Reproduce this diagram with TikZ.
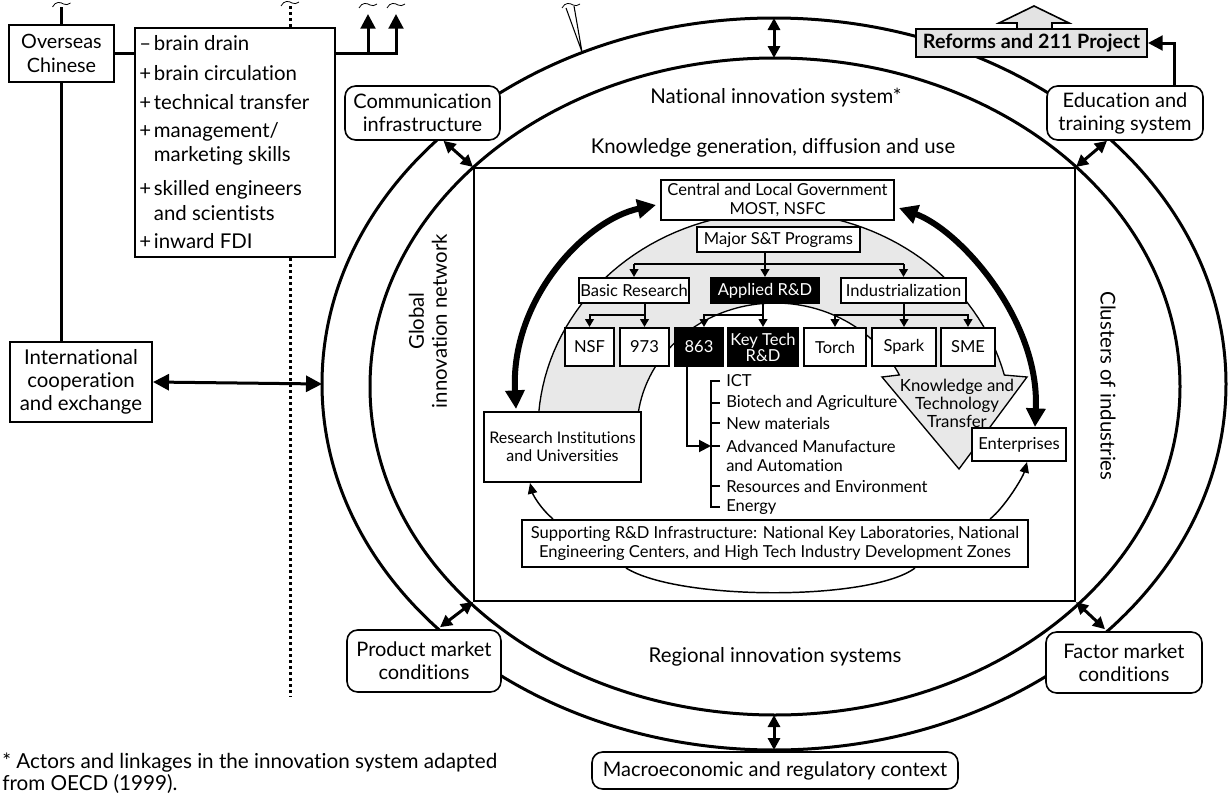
\documentclass[tikz,border=0pt]{standalone}
\usepackage{fontspec}
\setmainfont{Lato}[Ligatures=NoCommon]
\usetikzlibrary{arrows.meta,calc}
\begin{document}
\begin{tikzpicture}[x=0.75pt,y=-0.75pt,
  every node/.style={font=\fontsize{12.4}{14.5}\selectfont,inner sep=1pt},
  wh/.style 2 args={minimum width=#1*0.75pt,minimum height=#2*0.75pt},
  sq/.style={draw,line width=1.5pt,fill=white,align=center},
  blk/.style={sq,fill=black,text=white},
  rnd/.style={draw,line width=1.2pt,fill=white,rounded corners=8pt,align=center,font=\fontsize{15}{17.3}\selectfont},
  bigtxt/.style={font=\fontsize{15.3}{17.3}\selectfont,align=center},
  lst/.style={font=\fontsize{15.3}{18.5}\selectfont,align=left,inner sep=0pt,anchor=west},
  ell/.style={line width=2.25pt},
  heavy/.style={line width=2.25pt},
  dotline/.style={line width=2.25pt,dash pattern=on 2.25pt off 2.25pt},
  tree/.style={line width=1.5pt,-{Triangle[length=6pt,width=6.5pt]}},
  dbl/.style={line width=2.25pt,{Triangle[length=9pt,width=9pt]}-{Triangle[length=9pt,width=9pt]}},
  bigdbl/.style={line width=4.5pt,{Triangle[length=14pt,width=14pt]}-{Triangle[length=14pt,width=14pt]}},
  thinarr/.style={line width=1.1pt,-{Triangle[length=8pt,width=7pt]}},
  uparr/.style={line width=2.25pt,-{Triangle[length=11pt,width=11pt]}},
  tld/.pic={\draw[line width=0.6pt] (-9,2) .. controls (-6,-4) and (-1,-3) .. (2,-1) .. controls (4,0) and (7,0) .. (9,-2);}
]
\useasboundingbox (0,0) rectangle (1229,796);

% ---------- system ellipses ----------
\draw[ell] (774,384) ellipse [x radius=339pt, y radius=274.5pt];
\draw[ell] (775,386.5) ellipse [x radius=303.75pt, y radius=246.375pt];

% ---------- inner rectangle ----------
\node[draw,line width=1.5pt,wh={601}{433}] (rect) at (774.5,384.5) {};

% ---------- labels ----------
\node[bigtxt] (nis) at (776,98) {National innovation system*};
\node[bigtxt] (kgd) at (773,148) {Knowledge generation, diffusion and use};
\node[bigtxt] (ris) at (775,657) {Regional innovation systems};
\node[bigtxt,rotate=90] (gin) at (428,321) {Global\\innovation network};
\node[bigtxt,rotate=-90] (coi) at (1108,386) {Clusters of industries};

% ---------- gray band with knowledge transfer arrow ----------
\path[draw,line width=1pt,fill=gray!18]
  plot[domain=175.3:14.6,samples=70,variable=\t] ({775+237*cos(\t)},{430-218*sin(\t)})
  -- (1027,377) -- (959,469) -- (882,377) -- (899,375)
  -- plot[domain=25.7:171.8,samples=70,variable=\t] ({775+138*cos(\t)},{430-127*sin(\t)})
  -- cycle;
\node[align=center,font=\fontsize{12.6}{13.5}\selectfont] (ktt) at (957,403) {Knowledge and\\Technology\\Transfer};

% ---------- central boxes ----------
\node[sq,wh={233}{40}] (central) at (777.5,200) {Central and Local Government\\MOST, NSFC};
\node[sq,wh={163}{25}] (major) at (778.5,239.5) {Major S\&T Programs};
\node[sq,wh={110}{25}] (basic) at (634,290.5) {Basic Research};
\node[blk,wh={108}{25}] (applied) at (765,290.5) {Applied R\&D};
\node[sq,wh={125}{25}] (indus) at (903.5,290.5) {Industrialization};
\node[sq,wh={49}{38}] (nsf) at (589.5,347) {NSF};
\node[sq,wh={49}{38}] (n973) at (644.5,347) {973};
\node[blk,wh={48}{38}] (n863) at (699,347) {863};
\node[blk,wh={70}{38},font=\fontsize{12.4}{12}\selectfont] (keytech) at (763,347) {Key Tech\\R\&D};
\node[sq,wh={62}{38}] (torch) at (835,347) {Torch};
\node[sq,wh={64}{38}] (spark) at (904,347) {Spark};
\node[sq,wh={54}{38}] (sme) at (968,347) {SME};
\node[sq,wh={157}{70},font=\fontsize{12}{13.3}\selectfont] (research) at (562.5,447) {Research Institutions\\and Universities};
\node[sq,wh={94}{33}] (enter) at (1019,444.5) {Enterprises};
\node[sq,wh={506}{47}] (support) at (775,543.5) {Supporting R\&D Infrastructure: National Key Laboratories, National\\Engineering Centers, and High Tech Industry Development Zones};

% thin arcs round the support box
\draw[thinarr] ($(support.north west)+(32,0)$) .. controls +(-12,-10) and +(3,12) .. ($(research.south west)+(47,0)$);
\draw[thinarr] ($(support.north east)+(-39,0)$) .. controls +(15,-12) and +(-4,15) .. ($(enter.south)+(8,0)$);
\draw[line width=1.1pt] ($(support.south west)+(105,0)$) .. controls +(53,33) and +(-44,33) .. ($(support.south east)+(-114,0)$);

% ---------- program tree ----------
\draw[tree] (major.south -| applied.north) -- (applied.north);
\draw[line width=1.5pt] ($(major.south -| basic.north)+(0,11)$) -- ($(major.south -| indus.north)+(0,11)$);
\draw[tree] ($(major.south -| basic.north)+(0,11)$) -- (basic.north);
\draw[tree] ($(major.south -| indus.north)+(0,11)$) -- (indus.north);
\draw[tree] (basic.south -| n973.north) -- (n973.north);
\draw[tree] ($(basic.south -| n973.north)+(0,11)$) -| (nsf.north);
\draw[tree] (applied.south -| keytech.north) -- (keytech.north);
\draw[tree] ($(applied.south -| keytech.north)+(0,11)$) -| ($(n863.north)+(5,0)$);
\draw[tree] (indus.south -| spark.north) -- (spark.north);
\draw[tree] ($(indus.south -| spark.north)+(0,11)$) -| (torch.north);
\draw[tree] ($(indus.south -| spark.north)+(0,11)$) -| (sme.north);

% ---------- 863 areas ----------
\node[anchor=west,inner sep=0pt] (ict) at (726,381) {ICT};
\node[anchor=west,inner sep=0pt] (bio) at (726,403) {Biotech and Agriculture};
\node[anchor=west,inner sep=0pt] (newm) at (726,423) {New materials};
\node[anchor=west,inner sep=0pt,align=left,font=\fontsize{12.4}{14.25}\selectfont] (adv) at (726,455.5) {Advanced Manufacture\\and Automation};
\node[anchor=west,inner sep=0pt] (res) at (726,486) {Resources and Environment};
\node[anchor=west,inner sep=0pt] (energy) at (726,507) {Energy};
\coordinate (brk) at (711,446);
\draw[line width=1.5pt] (720,381) -- (711,381) -- (711,507) -- (720,507);
\draw[line width=1.5pt] (711,403) -- (720,403) (711,423) -- (720,423) (711,446) -- (720,446) (711,486) -- (720,486);
\draw[line width=1.5pt,-{Triangle[length=9pt,width=9pt]}] ($(n863.south)+(-12,0)$) |- (brk);

% ---------- heavy curved arrows ----------
\draw[bigdbl] ($(central.west)+(-4,5)$) .. controls (585,220) and (510,300) .. ($(research.north west)+(33,-2)$);
\draw[bigdbl] ($(central.east)+(4,8)$) .. controls (960,230) and (1040,320) .. ($(enter.north)+(16,0)$);

% ---------- outer ring boxes ----------
\draw[line width=1.2pt,fill=gray!22] (1017,29) -- (1017,23) -- (999,23) -- (1034,6) -- (1069,23) -- (1052,23) -- (1052,29) -- cycle;
\node[sq,fill=gray!22,wh={231}{28},font=\bfseries\fontsize{14.8}{15}\selectfont] (reforms) at (1031.5,43) {Reforms and 211 Project};
\node[rnd,wh={155}{54}] (comm) at (422.5,113) {Communication\\infrastructure};
\node[rnd,wh={156}{54}] (edu) at (1125,113) {Education and\\training system};
\node[rnd,wh={154}{62}] (prod) at (424,661) {Product market\\conditions};
\node[rnd,wh={156}{61}] (factor) at (1124,662.5) {Factor market\\conditions};
\node[rnd,wh={366}{37}] (macro) at (775,770.5) {Macroeconomic and regulatory context};

\draw[uparr] ($(edu.north)+(49,0)$) |- (reforms.east);

% corner links
\draw[dbl] (rect.north west) -- ($(comm.south)+(21,0)$);
\draw[dbl] (rect.north east) -- ($(edu.south)+(-18,0)$);
\draw[dbl] (rect.south west) -- ($(prod.north)+(16,-2)$);
\draw[dbl] (rect.south east) -- ($(factor.north)+(-19,-2)$);
\coordinate (oT) at (774,18); \coordinate (iT) at (774,58);
\draw[dbl] (oT) -- (iT);
\coordinate (iB) at (774,715); \coordinate (oB) at (774,750);
\draw[dbl] (iB) -- (oB);

% cut mark on outer ring
\draw[line width=0.8pt] (566,8) -- (582,52) -- (574,6);
\pic at (571,6) {tld};

% ---------- left side ----------
\node[sq,wh={105}{57},font=\fontsize{14.8}{17.5}\selectfont] (overseas) at (61.5,53.5) {Overseas\\Chinese};
\node[sq,wh={200}{229}] (list) at (235,142.5) {};
\node[lst] (i1) at (139,43) {\makebox[11pt][l]{–}brain drain};
\node[lst] (i2) at (139,73) {\makebox[11pt][l]{+}brain circulation};
\node[lst] (i3) at (139,102) {\makebox[11pt][l]{+}technical transfer};
\node[lst] (i4) at (139,144) {\makebox[11pt][l]{+}management/\\\hspace*{11pt}marketing skills};
\node[lst] (i5) at (139,200.5) {\makebox[11pt][l]{+}skilled engineers\\\hspace*{11pt}and scientists};
\node[lst] (i6) at (139,241) {\makebox[11pt][l]{+}inward FDI};
\node[sq,wh={142}{80},font=\fontsize{15.3}{17.5}\selectfont] (intl) at (81,382) {International\\cooperation\\and exchange};

\coordinate (ovtop) at (61.5,7);
\draw[heavy] (overseas.north) -- (ovtop);
\pic at (61.5,5) {tld};
\draw[heavy] (overseas.south) -- (overseas.south |- intl.north);
\draw[heavy] (overseas.east) -- (overseas.east -| list.west);
\coordinate (up1) at (368,14); \coordinate (up2) at (396,14);
\draw[uparr] (overseas.east -| list.east) -| (up2);
\draw[uparr] (overseas.east -| up1) -- (up1);
\pic at (368,6) {tld};
\pic at (396,6) {tld};

\coordinate (dtop) at (290,6); \coordinate (dbot) at (290,697);
\draw[dotline] (dtop) -- (dtop |- list.north);
\draw[dotline] (dtop |- list.south) -- (dbot);
\pic at (290,4) {tld};

\coordinate (oL) at (322,384);
\draw[line width=2.25pt,{Triangle[length=12pt,width=12pt]}-{Triangle[length=12pt,width=12pt]}] (intl.east) -- (oL);

% ---------- footnote ----------
\node[anchor=west,align=left,font=\fontsize{15.5}{16.5}\selectfont,inner sep=0pt] (fn) at (2,773) {* Actors and linkages in the innovation system adapted\\from OECD (1999).};
\end{tikzpicture}
\end{document}
